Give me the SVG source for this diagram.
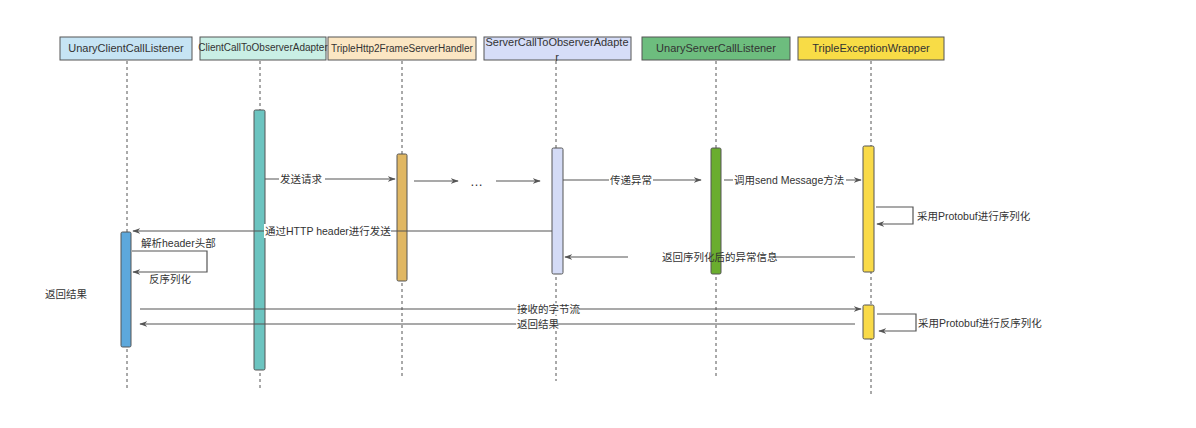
<svg xmlns="http://www.w3.org/2000/svg" width="1196" height="428" viewBox="0 0 1196 428">
<defs>
<marker id="ah" viewBox="0 0 10 10" refX="9" refY="5" markerWidth="8" markerHeight="8" orient="auto-start-reverse" markerUnits="userSpaceOnUse">
<path d="M0,1.5 L10,5 L0,8.5 L3,5 Z" fill="#555"/>
</marker>
<style>
.hd{stroke:#555;stroke-width:1}
.ht{font-family:"Liberation Sans","Noto Sans CJK SC",sans-serif;font-size:11px;fill:#333;text-anchor:middle}
.life{stroke:#555;stroke-width:1;stroke-dasharray:3,3;fill:none}
.act{stroke:#555;stroke-width:1}
.msg{stroke:#555;stroke-width:1.2;fill:none}
.lb{font-family:"Liberation Sans","Noto Sans CJK SC",sans-serif;font-size:10.5px;fill:#333}
.bg{fill:#fff}
</style>
</defs>
<rect width="1196" height="428" fill="#fff"/>

<g id="node-unaryclient">
<line class="life" x1="127" y1="61" x2="127" y2="390"/>
<rect class="hd" x="60" y="37" width="132" height="23" fill="#C6E4F4"/>
<text class="ht" x="126" y="52">UnaryClientCallListener</text>
<rect class="act" x="121" y="232" width="10" height="115" rx="1.5" fill="#5DA8DC"/>
</g>

<g id="node-clientadapter">
<line class="life" x1="260" y1="61" x2="260" y2="388"/>
<rect class="hd" x="200" y="37" width="126" height="23" fill="#C9EFE5"/>
<text class="ht" x="263" y="51" style="font-size:10px">ClientCallToObserverAdapter</text>
<rect class="act" x="254" y="110" width="11" height="260" rx="1.5" fill="#6CC4C0"/>
</g>

<g id="node-http2handler">
<line class="life" x1="402" y1="61" x2="402" y2="376"/>
<rect class="hd" x="328" y="37" width="148" height="23" fill="#FBE6C3"/>
<text class="ht" x="402" y="52" style="font-size:10px">TripleHttp2FrameServerHandler</text>
<rect class="act" x="397" y="154" width="10" height="127" rx="1.5" fill="#E0B763"/>
</g>

<g id="node-serveradapter">
<line class="life" x1="556" y1="61" x2="556" y2="381"/>
<rect class="hd" x="484" y="37" width="147" height="23" fill="#D6DDF8"/>
<text class="ht" x="557" y="46">ServerCallToObserverAdapte</text>
<text class="ht" x="557" y="61">r</text>
<rect class="act" x="552" y="148" width="11" height="126" rx="1.5" fill="#D4DBF6"/>
</g>

<g id="node-unaryserver">
<line class="life" x1="716" y1="61" x2="716" y2="378"/>
<rect class="hd" x="642" y="37" width="148" height="23" fill="#6DBD7E"/>
<text class="ht" x="716" y="52">UnaryServerCallListener</text>
<rect class="act" x="711" y="148" width="10" height="126" rx="1.5" fill="#6AAD2E"/>
</g>

<g id="node-exceptionwrapper">
<line class="life" x1="871" y1="61" x2="871" y2="394"/>
<rect class="hd" x="798" y="37" width="146" height="23" fill="#F8DC46"/>
<text class="ht" x="871" y="52">TripleExceptionWrapper</text>
<rect class="act" x="863" y="146" width="11" height="126" rx="1.5" fill="#F9DA48"/>
<rect class="act" x="863" y="305" width="11" height="34" rx="1.5" fill="#F9DA48"/>
</g>

<g id="connectors">
<line class="msg" x1="265" y1="179" x2="395" y2="179" marker-end="url(#ah)"/>
<rect class="bg" x="279" y="172" width="46" height="14"/>
<text class="lb" x="280" y="183">发送请求</text>

<line class="msg" x1="414" y1="181" x2="458" y2="181" marker-end="url(#ah)"/>
<text class="lb" x="470" y="186" style="font-size:13px">…</text>
<line class="msg" x1="496" y1="181" x2="540" y2="181" marker-end="url(#ah)"/>

<line class="msg" x1="563" y1="180" x2="701" y2="180" marker-end="url(#ah)"/>
<rect class="bg" x="609" y="173" width="44" height="14"/>
<text class="lb" x="610" y="184">传递异常</text>

<line class="msg" x1="724" y1="180" x2="861" y2="180" marker-end="url(#ah)"/>
<rect class="bg" x="733" y="173" width="113" height="14"/>
<text class="lb" x="734" y="184">调用send Message方法</text>

<polyline class="msg" points="876,207 913,207 913,224 877,224" marker-end="url(#ah)"/>
<text class="lb" x="917" y="220">采用Protobuf进行序列化</text>

<line class="msg" x1="552" y1="231" x2="133" y2="231" marker-end="url(#ah)"/>
<rect class="bg" x="264" y="224" width="127" height="14"/>
<text class="lb" x="265" y="235">通过HTTP header进行发送</text>

<line class="msg" x1="855" y1="257" x2="773" y2="257"/>
<line class="msg" x1="628" y1="257" x2="565" y2="257" marker-end="url(#ah)"/>
<text class="lb" x="662" y="261">返回序列化后的异常信息</text>

<polyline class="msg" points="132,251 207,251 207,272 133,272" marker-end="url(#ah)"/>
<text class="lb" x="141" y="247">解析header头部</text>
<text class="lb" x="149" y="283">反序列化</text>

<text class="lb" x="45" y="298">返回结果</text>

<line class="msg" x1="140" y1="309" x2="861" y2="309" marker-end="url(#ah)"/>
<rect class="bg" x="516" y="303" width="63" height="12" fill-opacity="0.85"/>
<text class="lb" x="517" y="313">接收的字节流</text>

<line class="msg" x1="855" y1="324" x2="140" y2="324" marker-end="url(#ah)"/>
<rect class="bg" x="516" y="318" width="41" height="12" fill-opacity="0.85"/>
<text class="lb" x="517" y="328">返回结果</text>

<polyline class="msg" points="877,314 916,314 916,331 879,331" marker-end="url(#ah)"/>
<text class="lb" x="918" y="327">采用Protobuf进行反序列化</text>
</g>
</svg>
